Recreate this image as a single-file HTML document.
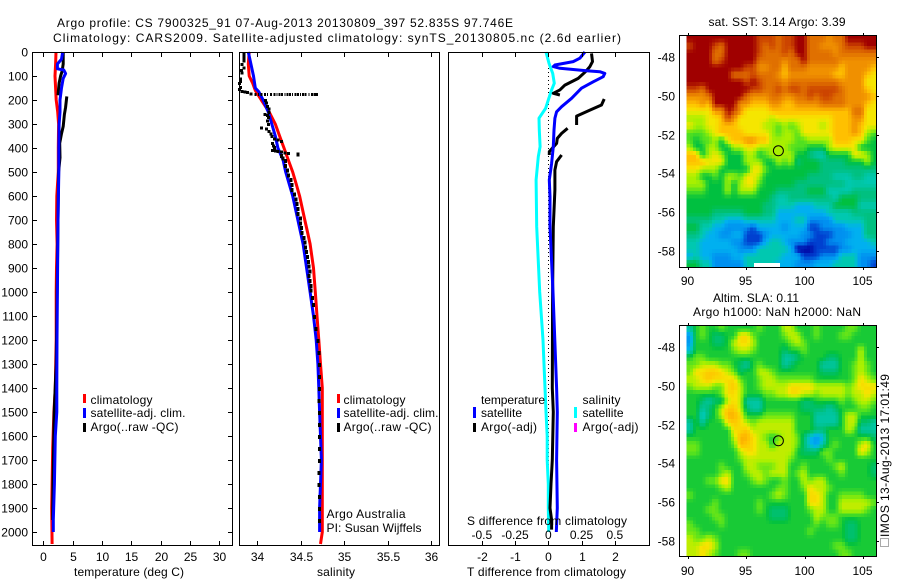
<!DOCTYPE html>
<html>
<head>
<meta charset="utf-8">
<title>Argo profile chart</title>
<style>
html,body{margin:0;padding:0;background:#fff;}
svg{display:block;}
text{font-family:"Liberation Sans",sans-serif;font-size:12px;fill:#000;}
</style>
</head>
<body>
<svg id="chart" xmlns="http://www.w3.org/2000/svg" width="900" height="580" viewBox="0 0 900 580">
<rect x="0" y="0" width="900" height="580" fill="#fff"/>
<text x="57" y="27" textLength="456">Argo profile: CS 7900325_91 07-Aug-2013 20130809_397 52.835S 97.746E</text>
<text x="53" y="42" textLength="568">Climatology: CARS2009. Satellite-adjusted climatology: synTS_20130805.nc (2.6d earlier)</text>
</svg>
<script>
const depthTicks = [0,100,200,300,400,500,600,700,800,900,1000,1100,1200,1300,1400,1500,1600,1700,1800,1900,2000];
const tempTicks = [0,5,10,15,20,25,30];
const salTicks = [34,34.5,35,35.5,36];
const salTickLabels = ['34','34.5','35','35.5','36'];
const tDiffTicks = [-2,-1,0,1,2];
const sDiffTicks = [-0.5,-0.25,0,0.25,0.5];
const sDiffTickLabels = ['-0.5','-0.25','0','0.25','0.5'];
const lonTicks = [90,95,100,105];
const latTicks = [48,50,52,54,56,58];

const climTempDepth = [0,50,100,150,200,250,300,400,500,600,700,800,900,1000,1200,1400,1500,1650,1800,1900,2050];
const climTemp = [2.16,2.1,2.0,2.1,2.2,2.45,2.6,2.55,2.55,2.3,2.25,2.35,2.25,2.2,2.2,2.05,1.8,1.6,1.5,1.43,1.5];
const satTempDepth = [0,30,50,70,75,90,110,150,200,250,300,400,500,700,1000,1200,1400,1500,1600,1800,1950,2000];
const satTemp = [3.3,3.1,2.4,2.4,3.5,3.8,3.4,3.1,2.85,2.85,2.7,2.65,2.65,2.5,2.4,2.33,2.3,2.3,2.05,1.9,1.7,1.7];
const argoTempDepth = [2,50,80,100,130,180,null,185,230,260,310,340,380,440,500,700,900,1000,1300,1500,1800,1950];
const argoTemp = [3.4,3.4,3.2,2.95,2.7,2.5,null,4,3.8,3.6,3.4,3.1,2.8,2.85,2.6,2.5,2.4,2.35,2.2,1.85,1.65,1.6];

const climSalDepth = [0,50,100,130,160,200,250,300,350,400,450,500,550,600,650,700,750,800,900,1000,1100,1200,1300,1400,1500,2000,2050];
const climSal = [33.91,33.9,33.91,33.95,33.98,34.05,34.14,34.21,34.26,34.31,34.36,34.41,34.45,34.49,34.52,34.55,34.58,34.61,34.65,34.67,34.69,34.71,34.73,34.75,34.75,34.75,34.73];
const satSalDepth = [0,50,100,150,165,200,250,300,350,400,450,500,550,600,650,700,750,800,900,1000,1100,1200,1300,1400,1500,1700,1900,2000];
const satSal = [33.9,33.93,33.96,33.98,34.02,34.07,34.13,34.17,34.21,34.24,34.3,34.33,34.37,34.41,34.44,34.47,34.5,34.53,34.57,34.61,34.65,34.68,34.7,34.71,34.72,34.74,34.72,34.72];
const argoSalDepth = [5,15,25,35,50,65,75,85,110,120,130,145,155,163,165,167,172,176,176,176,176,176,176,176,176,176,176,176,176,176,176,176,176,176,176,176,176,176,176,176,176,200,210,225,235,250,258,262,270,285,300,315,318,330,340,350,360,365,370,380,390,395,400,408,410,412,415,418,420,423,430,440,450,470,490,510,530,550,570,590,610,630,650,670,690,710,730,750,770,790,810,830,850,870,890,910,930,950,970,990,1020,1050,1100,1150,1200,1250,1300,1350,1400,1450,1500,1550,1600,1650,1700,1750,1800,1850,1900,1950];
const argoSal = [33.85,33.85,33.85,33.85,33.83,33.85,33.82,33.83,33.81,33.81,33.8,33.81,33.8,33.83,33.86,33.89,33.93,33.98,34.02,34.05,34.09,34.12,34.16,34.2,34.23,34.26,34.29,34.32,34.35,34.38,34.41,34.44,34.47,34.5,34.53,34.56,34.6,34.63,34.66,34.68,34.69,34.1,34.11,34.12,34.14,34.14,34.09,34.12,34.13,34.12,34.13,34.05,34.11,34.14,34.16,34.17,34.2,34.24,34.28,34.18,34.19,34.2,34.2,34.18,34.21,34.24,34.28,34.32,34.36,34.47,34.28,34.3,34.33,34.33,34.35,34.36,34.39,34.4,34.4,34.43,34.45,34.46,34.47,34.47,34.5,34.5,34.51,34.52,34.54,34.55,34.56,34.57,34.58,34.59,34.6,34.61,34.6,34.61,34.62,34.62,34.64,34.65,34.66,34.68,34.7,34.71,34.72,34.72,34.72,34.71,34.72,34.72,34.72,34.72,34.72,34.71,34.71,34.72,34.72,34.72];

const satSalDiffDepth = [0,47,89,130,158,200,235,276,325,394,436,533,728,1000,1200,1400,1500,1600,1700,1800,1900,2000];
const satSalDiff = [-0.017,0.005,0.033,0.045,0.025,0,-0.02,-0.07,-0.068,-0.062,-0.075,-0.092,-0.087,-0.065,-0.04,-0.025,-0.017,-0.008,-0.008,0,0,0.003];
const satTempDiffDepth = [0,26,40,54,61,68,78,82,89,103,124,151,193,228,249,276,325,394,464,533,603,728,1000,1400,1500,1700,1900,2000];
const satTempDiff = [1.1,0.95,0.75,0.2,0.15,0.35,1.15,1.55,1.7,1.65,1.35,1,0.7,0.4,0.25,0.2,0.17,0.15,0.1,0.03,0.05,0.05,0.14,0.25,0.27,0.25,0.27,0.24];
const argoTempDiffDepth = [6,40,61,82,110,138,158,172,179,null,196,221,242,267,304,null,318,339,360,381,415,429,null,429,457,492,575,728,1000,1400,1500,1700,1800,1900,1950,1990];
const argoTempDiff = [1.3,1.33,1.25,1.12,0.9,0.5,0.35,0.15,0.35,null,1.68,1.6,1.25,0.85,0.85,null,0.58,0.4,0.27,0.25,0.03,0.03,null,0.4,0.25,0.2,0.2,0.15,0.13,0.12,0.15,0.12,0.08,0.05,0.1,0.1];

const sstRows = [
[14,14,14,14,14,14,14,14,14,14,14,13,13,13,12,13,13,14,14,12,12,12,11,12,12,14,14,14,14,14],
[13,14,14,14,13,12,14,14,14,14,14,13,12,13,12,13,13,14,14,12,12,11,11,11,12,13,13,13,14,14],
[14,14,14,14,12,12,14,14,14,14,14,13,12,12,12,13,12,14,14,12,12,12,12,11,12,12,12,12,12,12],
[14,14,14,14,12,13,14,14,14,14,14,12,12,12,12,11,12,12,14,12,12,12,12,12,11,11,11,11,11,11],
[14,14,14,14,14,14,14,14,14,13,13,11,11,12,12,10,12,12,12,11,11,11,11,11,10,11,11,11,11,10],
[14,14,14,14,14,14,14,12,12,12,13,12,12,12,11,10,11,11,11,11,11,11,11,10,10,11,11,11,10,9],
[14,14,14,14,14,14,14,14,14,13,14,13,12,12,12,11,12,12,12,12,12,12,12,12,11,11,11,11,9,9],
[13,13,12,14,14,14,14,14,14,14,13,13,12,12,13,12,13,13,12,13,13,13,13,13,12,11,11,11,10,9],
[11,11,11,12,14,14,14,14,14,12,11,11,11,12,12,11,11,12,12,13,12,13,13,12,12,11,11,11,11,10],
[10,10,11,10,14,14,14,14,11,11,10,10,10,11,11,10,10,11,11,11,11,12,12,12,12,11,11,11,10,9],
[9,9,9,9,11,11,14,13,11,9,9,9,9,10,10,10,10,10,10,10,10,10,10,10,10,10,12,12,9,9],
[8,8,8,9,9,10,13,11,9,9,9,9,9,8,9,9,9,9,9,9,9,9,9,10,10,10,11,11,9,9],
[9,8,8,9,9,10,10,10,9,9,9,9,8,8,7,8,7,8,9,9,9,8,9,10,10,10,11,10,9,9],
[7,7,7,8,9,10,10,10,10,9,9,9,9,8,7,8,8,7,9,9,9,9,9,10,10,10,11,10,8,7],
[7,6,7,7,8,6,9,10,10,11,11,10,10,8,8,8,8,7,7,8,8,8,8,10,10,10,9,9,7,6],
[8,6,6,8,8,6,6,8,8,9,9,8,8,8,8,8,7,7,7,6,6,6,8,9,9,9,9,6,6,6],
[10,10,6,8,9,8,6,6,6,8,8,6,7,8,8,8,8,6,6,5,4,4,6,6,6,6,9,9,8,6],
[10,10,10,9,9,9,6,6,6,8,8,8,6,6,8,7,8,5,6,6,6,5,5,5,5,6,6,6,8,6],
[9,9,8,8,8,6,6,6,6,6,9,9,7,6,6,6,6,6,6,6,6,5,5,5,5,5,5,5,5,5],
[8,8,6,6,7,6,8,8,7,9,9,8,6,6,6,6,6,6,6,5,5,5,5,4,4,4,5,5,4,4],
[8,8,8,6,6,6,8,6,8,9,9,7,6,6,6,6,6,5,5,5,5,5,5,5,5,4,4,4,4,4],
[7,7,7,6,6,6,8,6,8,8,8,6,6,6,5,5,5,5,5,6,6,6,4,4,4,4,5,5,5,5],
[6,6,6,6,6,6,6,6,6,6,6,6,6,5,4,4,5,5,5,5,5,5,5,4,6,6,6,5,5,5],
[6,6,6,6,6,6,6,6,6,6,6,6,5,5,4,4,4,3,3,3,4,4,4,6,6,6,6,4,4,4],
[6,6,6,6,5,5,5,5,5,6,6,6,5,5,3,3,3,3,3,3,3,3,4,4,4,4,5,5,5,5],
[5,5,5,5,4,4,3,3,3,4,4,4,4,4,3,3,3,4,4,2,2,2,2,4,4,4,4,4,5,5],
[6,6,4,4,3,3,2,2,2,2,1,3,3,3,3,2,3,3,3,1,1,2,2,2,2,3,3,3,5,5],
[5,5,4,3,3,2,2,3,3,1,1,1,2,3,3,3,3,3,2,2,1,1,1,2,2,2,3,3,5,5],
[4,4,3,3,3,3,3,2,2,1,1,1,3,4,4,3,2,2,2,1,1,1,2,2,2,3,3,3,3,4],
[4,4,3,3,3,3,3,3,2,2,2,4,4,4,4,4,3,0,0,0,1,1,1,1,2,2,3,3,3,3],
[3,4,3,3,2,2,2,3,3,4,4,4,4,4,4,3,3,3,1,1,1,2,2,2,4,4,4,2,2,2],
[6,6,4,4,2,2,2,2,2,4,4,4,4,4,3,3,3,2,2,2,3,3,3,4,4,4,4,2,2,1]
];
const slaRows = [
[4,6,7,6,6,7,6,6,6,6,6,7,6,6,6,8,8,6,6,6,7,6,6,6,6,7,7,6,6,6],
[2,6,7,6,5,5,6,6,9,9,7,6,6,6,6,7,8,8,6,6,7,6,6,6,7,7,6,6,6,6],
[2,6,6,6,5,5,6,8,9,9,8,6,6,6,6,6,7,8,7,6,6,6,6,6,6,6,6,6,6,6],
[3,6,6,6,6,6,6,7,8,8,7,6,6,6,6,5,6,6,7,6,6,6,6,6,6,6,6,8,6,6],
[6,7,7,6,6,6,6,6,6,6,6,6,6,6,6,4,4,5,6,6,6,6,5,5,6,6,6,8,6,6],
[7,7,8,8,8,7,7,6,5,4,6,7,6,6,6,4,5,6,6,6,6,4,4,4,6,6,7,8,7,6],
[7,9,9,9.5,9.5,9,8,7,5,6,6,8,8,7,6,6,6,6,6,6,6,5,5,5,6,6,7,8,7,6],
[8,8,9,9.5,9,9,9,9,7,6,6,7,8,8,7,7,7,7,7,7,6,6,6,6,6,6,7,9,8,7],
[7,8,8,8,7,7,9,9.5,8,6,6,7,8,8,8,8,9,9,9,9,8,8,8,8,8,7,8,9,9,9],
[6,6,6,6,6,7,9,9,8,6,6,6,7,7,8,8,9,9,8,8,7,8,8,8,8,7,8,8,9,8],
[6,6,5,4,5,5,8,9,8,4,4,4,6,6,6,6,6,6,5,5,6,6,6,6,7,6,7,8,8,7],
[6,6,4,5,6,8,9.5,9.5,8,5,4,4,6,6,6,6,6,6,5,5,5,5,4,5,6,6,6,7,7,6],
[6,6,3,5,6,8,10,10,9,6,6,6,7,7,7,7,7,6,6,6,4,4,4,4,6,8,8,6,6,6],
[4,6,4,6,6,6,9,9.5,9,8,7,8,8,8,8,8,8,6,6,6,4,4,4,4,6,8,8,5,5,4],
[4,6,6,6,6,6,6,9,9,9.5,8,8,8,8,8,8,8,6,6,6,5,5,6,6,6,8,7,4,4,4],
[6,6,6,6,6,6,6,8,10,10,9,8,7,6,7,8,8,7,5,3,2,3,6,6,6,6,6,6,6,5],
[7,7,6,6,6,6,6,7,10,9.5,9,8,8,6,8,8,8,7,5,3,2,4,6,7,6,6,6,8,9,6],
[7,7,6,6,6,6,6,6,8,9,9,8,8,8,8,8,8,6,5,5,5,7,7,6,6,6,6,9,8,6],
[6,6,6,6,6,6,6,6,7,8,8,8,8,8,8,8,7,6,6,6,6,6,7,6,6,6,6,6,6,6],
[6,6,6,6,6,7,6,6,6,8,8,7,7,7,8,8,6,6,7,6,6,6,6,7,8,6,6,6,6,5],
[6,6,6,6,6,7,8,6,6,7,8,8,7,8,8,8,6,7,8,6,6,6,6,6,7,6,6,6,6,5],
[6,6,6,7,7,9,9,6,6,6,7,8,7,6,6,7,6,6,8,7,8,8,6,6,6,6,6,6,6,6],
[6,6,6,6,6,7,8,6,6,6,6,6,6,6,7,7,6,6,7,9,8,8,7,6,6,6,6,6,6,6],
[7,6,6,6,6,6,6,6,6,6,6,6,6,7,8,7,6,6,6,9,9,8,6,6,7,7,7,7,6,6],
[6,6,6,6,7,6,6,6,6,6,6,7,6,6,6,6,6,6,6,9,9,8,6,6,8,8,8,8,8,7],
[6,6,6,7,7,6,6,6,6,6,6,7,6,5,5,5,6,6,6,7,8,8,6,6,8,8,8,8,7,6],
[6,6,6,6,7,7,6,6,6,6,6,6,6,5,5,5,6,6,6,6,8,7,7,7,6,6,6,6,6,6],
[7,6,6,6,6,7,6,6,6,6,6,6,6,6,6,6,6,6,6,6,7,6,7,7,6,5,5,6,6,6],
[7,7,6,6,6,6,6,6,6,6,6,6,6,6,6,6,6,6,6,7,6,6,6,6,6,5,5,6,6,6],
[8,7,7,8,7,6,6,6,6,6,6,6,6,6,6,6,6,6,6,6,6,6,6,6,6,5,5,6,6,6],
[8,8,9,9,8,6,6,6,6,6,6,6,6,6,6,6,6,6,6,6,6,6,6,7,7,6,6,6,6,6],
[8,8,9,8,7,6,6,6,7,7,6,6,6,6,6,6,6,6,6,6,6,6,6,6,7,7,6,6,6,6]
];
const argoLon = [97.746];
const argoLat = [52.835];

const svg = document.getElementById('chart');
const NS = 'http://www.w3.org/2000/svg';
function levelRgb(i){
  const table = [[0,0,160],[0,64,208],[0,144,240],[0,176,240],[0,200,176],[0,192,128],[0,192,64],[80,224,32],[168,240,0],[245,230,0],[255,192,0],[240,144,0],[224,112,0],[204,68,0],[160,0,0]];
  return table[i];
}
function levelColour(v){
  const t = Math.max(0, Math.min(14, v));
  const lo = Math.floor(t), hi = Math.min(14, lo + 1), f = t - lo;
  const a = levelRgb(lo), b = levelRgb(hi);
  return 'rgb(' + Math.round(a[0] + (b[0] - a[0]) * f) + ',' + Math.round(a[1] + (b[1] - a[1]) * f) + ',' + Math.round(a[2] + (b[2] - a[2]) * f) + ')';
}

function depthY(d){ return 52 + d * 0.24; }
function tempX(t){ return 43.3 + t * 5.867; }
function salX(s){ return 257 + (s - 34) * 87; }
function tDiffX(t){ return 548.3 + t * 33.25; }
function sDiffX(s){ return 548.3 + s * 133; }
function lonX(lon){ return 688.3 + (lon - 90) * 11.63; }
function latY1(lat){ return 57.3 + (lat - 48) * 19.33; }
function latY2(lat){ return 347.3 + (lat - 48) * 19.33; }

function rect(name, x, y, w, h, fill){
  const el = document.createElementNS(NS, 'rect');
  
  
  el.setAttribute('x', x);
  el.setAttribute('y', y);
  el.setAttribute('width', w);
  el.setAttribute('height', h);
  el.setAttribute('fill', fill);
  el.setAttribute('shape-rendering', 'crispEdges');
  svg.appendChild(el);
  return el;
}
function line(name, x1, y1, x2, y2){
  const el = document.createElementNS(NS, 'line');
  
  
  el.setAttribute('x1', x1);
  el.setAttribute('y1', y1);
  el.setAttribute('x2', x2);
  el.setAttribute('y2', y2);
  el.setAttribute('stroke', '#000');
  el.setAttribute('stroke-width', '1');
  el.setAttribute('shape-rendering', 'crispEdges');
  svg.appendChild(el);
  return el;
}
function label(name, str, x, y, anchor){
  const el = document.createElementNS(NS, 'text');
  
  
  el.setAttribute('x', x);
  el.setAttribute('y', y);
  if (anchor) el.setAttribute('text-anchor', anchor);
  el.textContent = str;
  svg.appendChild(el);
  return el;
}
function profile(name, depths, values, xFn, colour, width){
  let pts = [];
  const flush = function(){
    if (pts.length > 1) {
      const el = document.createElementNS(NS, 'polyline');
      
      
      el.setAttribute('points', pts.join(' '));
      el.setAttribute('fill', 'none');
      el.setAttribute('stroke', colour);
      el.setAttribute('stroke-width', width);
      el.setAttribute('stroke-linejoin', 'round');
      svg.appendChild(el);
    }
    pts = [];
  };
  for (let i = 0; i < depths.length; i++) {
    if (depths[i] === null) { flush(); continue; }
    pts.push(xFn(values[i]).toFixed(1) + ',' + depthY(depths[i]).toFixed(1));
  }
  flush();
}
function frame(name, x0, y0, x1, y1){
  const el = document.createElementNS(NS, 'rect');
  
  
  el.setAttribute('x', x0);
  el.setAttribute('y', y0);
  el.setAttribute('width', x1 - x0);
  el.setAttribute('height', y1 - y0);
  el.setAttribute('fill', 'none');
  el.setAttribute('stroke', '#000');
  el.setAttribute('shape-rendering', 'crispEdges');
  svg.appendChild(el);
}
function sampleGrid(rows, r, c){
  const nr = rows.length, nc = rows[0].length;
  const r0 = Math.max(0, Math.min(nr - 1, Math.floor(r)));
  const r1 = Math.min(nr - 1, r0 + 1);
  const c0 = Math.max(0, Math.min(nc - 1, Math.floor(c)));
  const c1 = Math.min(nc - 1, c0 + 1);
  const fr = Math.max(0, Math.min(1, r - r0));
  const fc = Math.max(0, Math.min(1, c - c0));
  return (rows[r0][c0] * (1 - fc) + rows[r0][c1] * fc) * (1 - fr) + (rows[r1][c0] * (1 - fc) + rows[r1][c1] * fc) * fr;
}
function heatmap(prefix, rows, yTop, yBottom, shift){
  const xLeft = 686.7, xRight = 876.7, sub = 2;
  const nr = rows.length * sub, nc = rows[0].length * sub;
  const cw = (xRight - xLeft) / nc;
  const ch = (yBottom - yTop) / nr;
  for (let r = 0; r < nr; r++) {
    for (let c = 0; c < nc; c++) {
      const v = sampleGrid(rows, (r + 0.5) / sub - 0.5, (c + 0.5) / sub - 0.5) + shift;
      rect(prefix + '-cell', (xLeft + c * cw).toFixed(2), (yTop + r * ch).toFixed(2), (cw + 0.5).toFixed(2), (ch + 0.5).toFixed(2), levelColour(v));
    }
  }
}
function marker(name, x, y){
  const el = document.createElementNS(NS, 'circle');
  
  
  el.setAttribute('cx', x);
  el.setAttribute('cy', y);
  el.setAttribute('r', 5);
  el.setAttribute('fill', 'none');
  el.setAttribute('stroke', '#000');
  svg.appendChild(el);
}

/* profile panels */
const panels = [[32.5,232.5],[239.5,439.5],[448.5,649.5]];
const yTop = 52.5, yBot = 545.5;

/* temperature panel */
profile('climatology-temperature-line', climTempDepth, climTemp, tempX, '#ff0000', 3);
profile('argo-temperature-line', argoTempDepth, argoTemp, tempX, '#000000', 3);
profile('satellite-temperature-line', satTempDepth, satTemp, tempX, '#0000ff', 3);

/* salinity panel */
profile('climatology-salinity-line', climSalDepth, climSal, salX, '#ff0000', 3);
profile('satellite-salinity-line', satSalDepth, satSal, salX, '#0000ff', 3);
argoSalDepth.forEach(function(d, i){
  const s = argoSal[i];
  const onBlip = d === 176;
  const wide = onBlip ? (i % 3 === 0 ? 1 : 2) : 3;
  const high = onBlip ? 3 : (d > 420 ? 4 : 3);
  rect('argo-salinity-point', (salX(s) - wide / 2).toFixed(1), (depthY(d) - 1).toFixed(1), wide, high, '#000');
});

/* difference panel */
const zeroLine = line('zero-difference-line', 548.5, 52, 548.5, 532);
zeroLine.setAttribute('stroke-dasharray', '1 3');
profile('satellite-salinity-difference-line', satSalDiffDepth, satSalDiff, sDiffX, '#00ffff', 3);
profile('argo-temperature-difference-line', argoTempDiffDepth, argoTempDiff, tDiffX, '#000000', 3);
profile('satellite-temperature-difference-line', satTempDiffDepth, satTempDiff, tDiffX, '#0000ff', 3);

/* frames */
frame('temperature-panel-frame', panels[0][0], yTop, panels[0][1], yBot);
frame('salinity-panel-frame', panels[1][0], yTop, panels[1][1], yBot);
frame('difference-panel-frame', panels[2][0], yTop, panels[2][1], yBot);

/* y axis */
depthTicks.forEach(function(d){
  const y = Math.round(depthY(d)) + 0.5;
  line('depth-tick-left', 32.5, y, 37, y);
  line('depth-tick-right', 228, y, 232.5, y);
  label('depth-tick-label', String(d), 28, y + 4, 'end');
});

/* x axes */
tempTicks.forEach(function(t){
  const x = Math.round(tempX(t)) + 0.5;
  line('temperature-tick-top', x, 52.5, x, 57);
  line('temperature-tick-bottom', x, 541, x, 545.5);
  label('temperature-tick-label', String(t), x, 561, 'middle');
});
salTicks.forEach(function(s, i){
  const x = Math.round(salX(s)) + 0.5;
  line('salinity-tick-top', x, 52.5, x, 57);
  line('salinity-tick-bottom', x, 541, x, 545.5);
  label('salinity-tick-label', salTickLabels[i], x, 561, 'middle');
});
tDiffTicks.forEach(function(t){
  const x = Math.round(tDiffX(t)) + 0.5;
  line('t-difference-tick-top', x, 52.5, x, 57);
  line('t-difference-tick-bottom', x, 541, x, 545.5);
  label('t-difference-tick-label', String(t), x, 561, 'middle');
});
sDiffTicks.forEach(function(s, i){
  label('s-difference-tick-label', sDiffTickLabels[i], sDiffX(s), 539, 'middle');
});

label('temperature-axis-title', 'temperature (deg C)', 129, 576, 'middle').setAttribute('textLength', '110');
label('salinity-axis-title', 'salinity', 336, 576, 'middle').setAttribute('textLength', '38');
label('t-difference-axis-title', 'T difference from climatology', 546.5, 576, 'middle').setAttribute('textLength', '159');
label('s-difference-axis-title', 'S difference from climatology', 547, 525, 'middle').setAttribute('textLength', '160');

/* legends */
rect('temperature-legend-climatology-swatch', 83, 394, 3, 9, '#ff0000');
rect('temperature-legend-satellite-swatch', 83, 408, 3, 10, '#0000ff');
rect('temperature-legend-argo-swatch', 83, 423, 3, 9, '#000000');
label('temperature-legend-climatology', 'climatology', 90.5, 404).setAttribute('textLength', '62');
label('temperature-legend-satellite', 'satellite-adj. clim.', 90.5, 417).setAttribute('textLength', '95');
label('temperature-legend-argo', 'Argo(..raw -QC)', 90.5, 431).setAttribute('textLength', '88');
rect('salinity-legend-climatology-swatch', 337, 394, 3, 9, '#ff0000');
rect('salinity-legend-satellite-swatch', 337, 408, 3, 10, '#0000ff');
rect('salinity-legend-argo-swatch', 337, 423, 3, 9, '#000000');
label('salinity-legend-climatology', 'climatology', 343.5, 404).setAttribute('textLength', '62');
label('salinity-legend-satellite', 'satellite-adj. clim.', 343.5, 417).setAttribute('textLength', '95');
label('salinity-legend-argo', 'Argo(..raw -QC)', 343.5, 431).setAttribute('textLength', '88');
label('argo-institution-label', 'Argo Australia', 326.5, 518).setAttribute('textLength', '79');
label('principal-investigator-label', 'PI: Susan Wijffels', 326.5, 532).setAttribute('textLength', '95');

rect('difference-legend-temperature-satellite-swatch', 473, 407, 3, 11, '#0000ff');
rect('difference-legend-temperature-argo-swatch', 473, 423, 3, 9, '#000000');
rect('difference-legend-salinity-satellite-swatch', 574, 407, 3, 11, '#00ffff');
rect('difference-legend-salinity-argo-swatch', 574, 423, 3, 9, '#ff00ff');
label('difference-legend-temperature-heading', 'temperature', 481, 404).setAttribute('textLength', '64');
label('difference-legend-temperature-satellite', 'satellite', 481, 417).setAttribute('textLength', '41');
label('difference-legend-temperature-argo', 'Argo(-adj)', 481, 431).setAttribute('textLength', '56');
label('difference-legend-salinity-heading', 'salinity', 582.5, 404).setAttribute('textLength', '38');
label('difference-legend-salinity-satellite', 'satellite', 582.5, 417).setAttribute('textLength', '41');
label('difference-legend-salinity-argo', 'Argo(-adj)', 582.5, 431).setAttribute('textLength', '56');

/* maps */
heatmap('sst-map', sstRows, 35, 267.3, 0);
heatmap('sla-map', slaRows, 325, 556.7, 0.3);
rect('sst-map-white-bar', 754, 263, 26, 5, '#ffffff');
frame('sst-map-frame', 679.5, 35.5, 876.5, 267.5);
frame('sla-map-frame', 679.5, 325.5, 876.5, 556.5);
marker('sst-map-argo-position', lonX(argoLon[0]), latY1(argoLat[0]));
marker('sla-map-argo-position', lonX(argoLon[0]), latY2(argoLat[0]));

lonTicks.forEach(function(lon){
  const x = Math.round(lonX(lon)) + 0.5;
  line('sst-map-lon-tick-top', x, 33, x, 35.5);
  line('sst-map-lon-tick-bottom', x, 267.5, x, 270);
  line('sla-map-lon-tick-top', x, 323, x, 325.5);
  line('sla-map-lon-tick-bottom', x, 556.5, x, 559);
  label('sst-map-lon-label', String(lon), x - 1, 285, 'middle');
  label('sla-map-lon-label', String(lon), x - 1, 575, 'middle');
});
latTicks.forEach(function(lat){
  const y1 = Math.round(latY1(lat)) + 0.5;
  const y2 = Math.round(latY2(lat)) + 0.5;
  line('sst-map-lat-tick-right', 876.5, y1, 879, y1);
  line('sla-map-lat-tick-right', 876.5, y2, 879, y2);
  label('sst-map-lat-label', '-' + lat, 675, y1 + 4, 'end');
  label('sla-map-lat-label', '-' + lat, 675, y2 + 4, 'end');
});
label('sst-map-title', 'sat. SST: 3.14  Argo: 3.39', 777, 26, 'middle').setAttribute('textLength', '137');
label('sla-map-title-line-1', 'Altim. SLA: 0.11', 756, 302, 'middle').setAttribute('textLength', '86');
label('sla-map-title-line-2', 'Argo h1000: NaN h2000: NaN', 777, 316, 'middle').setAttribute('textLength', '168');

const stamp = label('imos-timestamp', 'IMOS 13-Aug-2013 17:01:49', 0, 0);
stamp.setAttribute('transform', 'translate(889 537) rotate(-90)');
stamp.setAttribute('textLength', '163');
const logo = rect('imos-logo', 880.5, 538.5, 8, 8, 'none');
logo.setAttribute('stroke', '#555');
logo.setAttribute('stroke-dasharray', '1 1');
</script>
</body>
</html>
